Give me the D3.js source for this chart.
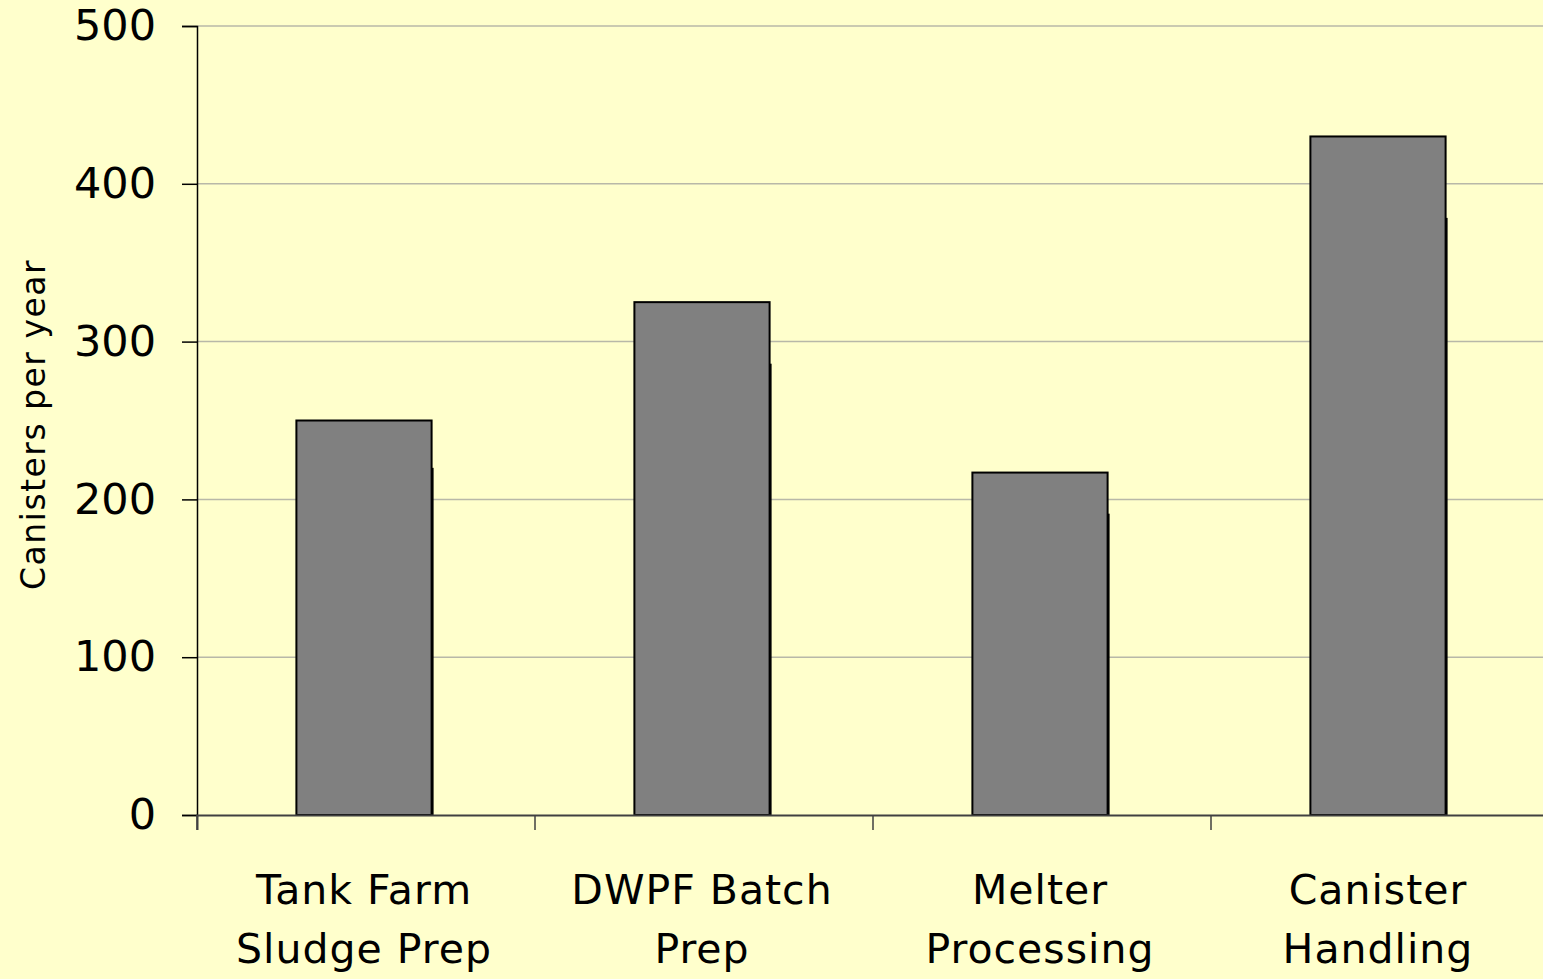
<!DOCTYPE html>
<meta charset="utf-8">
<script src="https://d3js.org/d3.v7.min.js"></script>
<style>
  body { margin: 0; background: #FFFFCC; overflow: hidden; }
</style>
<div id="chart"></div>
<script>

// data
var categories = [["Tank Farm", "Sludge Prep"], ["DWPF Batch", "Prep"], ["Melter", "Processing"], ["Canister", "Handling"]];
var values = [250, 325, 217, 430];
var yTicks = [0, 100, 200, 300, 400, 500];

var W = 1543, H = 979;
var margin = {top: 26, right: -6, bottom: 164, left: 197};
var width = W - margin.left - margin.right,
    height = H - margin.top - margin.bottom;

var svg = d3.select("#chart")
  .append("svg")
    .attr("width", W)
    .attr("height", H)
    .style("font-family", "'DejaVu Sans', sans-serif");

svg.append("rect").attr("width", W).attr("height", H).attr("fill", "#FFFFCC");

var g = svg.append("g")
    .attr("transform", "translate(" + margin.left + "," + margin.top + ")");

var keys = categories.map(function(d) { return d.join(" "); });

var x = d3.scaleBand()
  .domain(keys)
  .range([-2, width - 2])
  .paddingInner(0.6)
  .paddingOuter(0.3);

var xTicks = d3.scaleBand().domain(keys).range([0, width]);

var y = d3.scaleLinear()
  .domain([0, 500])
  .range([height, 0]);

// gridlines
g.selectAll(".grid")
  .data(yTicks.filter(function(d) { return d > 0; }))
  .enter().append("line")
    .attr("x1", 0).attr("x2", width)
    .attr("y1", function(d) { return y(d); })
    .attr("y2", function(d) { return y(d); })
    .attr("stroke", "#b8b8a8")
    .attr("stroke-width", 1.5);

// y axis
var yAxis = g.append("g")
  .call(d3.axisLeft(y).tickValues(yTicks).tickSize(15).tickPadding(26));
yAxis.select(".domain").attr("stroke", "#000").attr("stroke-width", 1.5);
yAxis.selectAll(".tick line").attr("stroke", "#000").attr("stroke-width", 1.5);
yAxis.selectAll("text")
  .attr("font-size", "43px")
  .attr("font-family", "'DejaVu Sans', sans-serif")
  .attr("fill", "#000");

// bars (with the small dark shadow on the right edge)
g.selectAll(".shadow")
  .data(values)
  .enter().append("rect")
    .attr("x", function(d, i) { return x(keys[i]) + x.bandwidth() - 1; })
    .attr("y", function(d) { return y(d * 0.88); })
    .attr("width", 3)
    .attr("height", function(d) { return height - y(d * 0.88); })
    .attr("fill", "#000");

g.selectAll(".bar")
  .data(values)
  .enter().append("rect")
    .attr("x", function(d, i) { return x(keys[i]); })
    .attr("y", function(d) { return y(d); })
    .attr("width", x.bandwidth())
    .attr("height", function(d) { return height - y(d); })
    .attr("fill", "#808080")
    .attr("stroke", "#000")
    .attr("stroke-width", 2);

// x axis
var xAxis = g.append("g")
  .attr("transform", "translate(0," + height + ")")
  .call(d3.axisBottom(xTicks).tickSize(15).tickFormat(""));
xAxis.select(".domain").attr("stroke", "#404040").attr("stroke-width", 2);
xAxis.selectAll(".tick").attr("transform", function(d) {
  return "translate(" + (xTicks(d)) + ",0)";
});
xAxis.selectAll(".tick line").attr("stroke", "#404040").attr("stroke-width", 1.5);

// category labels
var labels = g.selectAll(".cat")
  .data(categories)
  .enter().append("text")
    .attr("text-anchor", "middle")
    .attr("font-size", "41px")
    .attr("letter-spacing", "1px")
    .attr("fill", "#000")
    .attr("x", function(d, i) { return x(keys[i]) + x.bandwidth() / 2; })
    .attr("y", height + 89);
labels.selectAll("tspan")
  .data(function(d) { return d; })
  .enter().append("tspan")
    .attr("x", function() { return d3.select(this.parentNode).attr("x"); })
    .attr("dy", function(d, i) { return i ? 59 : 0; })
    .text(function(d) { return d; });

// y axis title
svg.append("text")
  .attr("transform", "translate(45," + (margin.top + height * 0.505) + ") rotate(-90)")
  .attr("text-anchor", "middle")
  .attr("font-size", "33px")
  .attr("letter-spacing", "1.5px")
  .attr("fill", "#000")
  .text("Canisters per year");

</script>
